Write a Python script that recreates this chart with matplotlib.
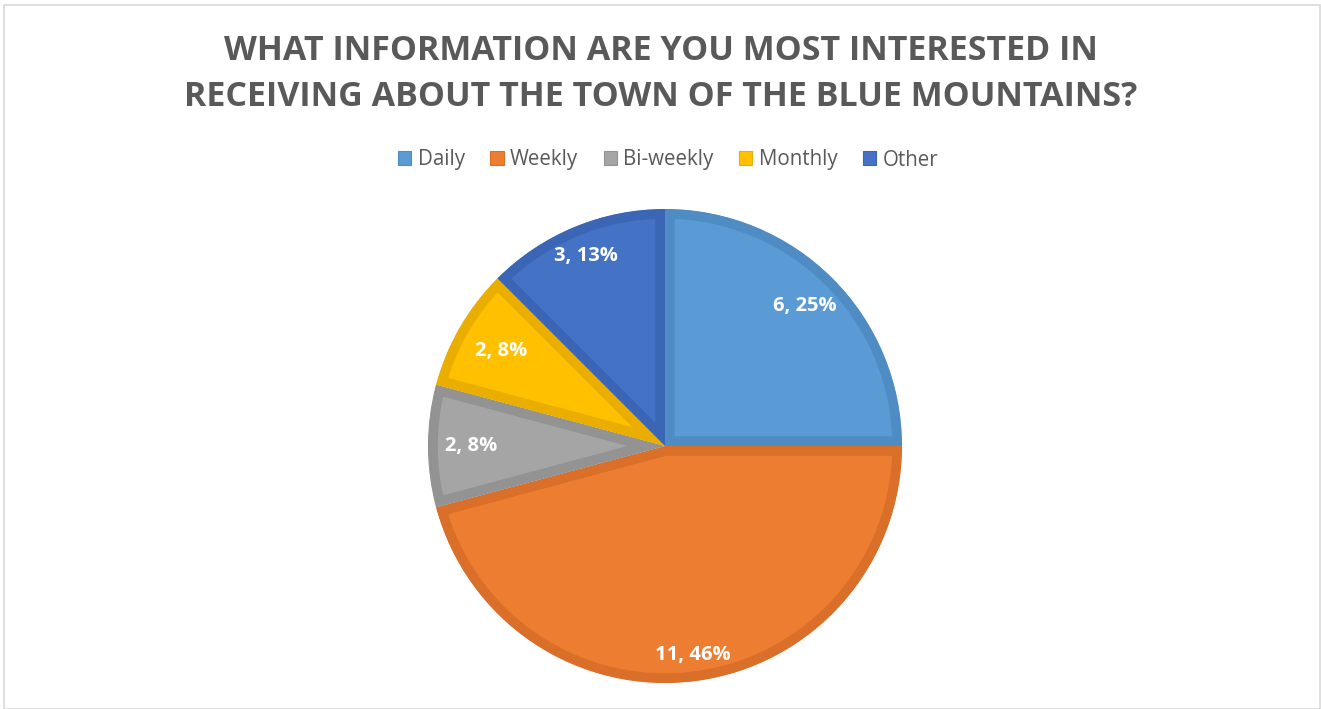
import matplotlib
matplotlib.use("Agg")
import matplotlib.pyplot as plt
from matplotlib.patches import Rectangle, Patch
import numpy as np

categories = ["Daily", "Weekly", "Bi-weekly", "Monthly", "Other"]
counts = [6, 11, 2, 2, 3]
percents = [25, 46, 8, 8, 13]
title = "WHAT INFORMATION ARE YOU MOST INTERESTED IN\nRECEIVING ABOUT THE TOWN OF THE BLUE MOUNTAINS?"

fill_colors = ["#5B9BD5", "#ED7D31", "#A5A5A5", "#FFC000", "#4472C4"]
edge_colors = ["#4F8CC4", "#DA6F2A", "#939393", "#E9AE00", "#3B66B6"]
label_dist = [0.835, 0.89, 0.82, 0.80, 0.87]

plt.rcParams['font.family'] = ['Open Sans', 'DejaVu Sans']
W, H = 1321, 709
fig = plt.figure(figsize=(W / 100, H / 100), dpi=100)
fig.patch.set_facecolor("white")

# outer frame
fig.add_artist(Rectangle((4 / W, 0), 1 - 5 / W, 1 - 5 / H, transform=fig.transFigure,
                         fill=False, edgecolor="#D9D9D9", linewidth=1.2))

cx, cy, r = 665, H - 446, 237
ax = fig.add_axes([(cx - r) / W, (cy - r) / H, 2 * r / W, 2 * r / H])

wedges, _ = ax.pie(counts, colors=fill_colors, startangle=90, counterclock=False,
                   radius=1.0, center=(0, 0), frame=False)
ax.set_xlim(-1, 1)
ax.set_ylim(-1, 1)
ax.set_aspect("equal")
ax.axis("off")
for w, ec in zip(wedges, edge_colors):
    w.set_edgecolor(ec)
    w.set_linewidth(14)
    w.set_clip_on(True)
    w.set_clip_path(w)

for w, c, p, d in zip(wedges, counts, percents, label_dist):
    ang = np.deg2rad((w.theta1 + w.theta2) / 2)
    ax.text(d * np.cos(ang), d * np.sin(ang), f"{c}, {p}%", ha="center", va="center",
            color="white", fontsize=14.5, fontweight="bold")

fig.text(0.5, 1 - 74 / H, title, ha="center", va="center", fontsize=24.5, fontweight="bold",
         color="#595959", linespacing=1.5)

handles = [Patch(facecolor=fc, edgecolor=ec, linewidth=0.8) for fc, ec in zip(fill_colors, edge_colors)]
fig.legend(handles, categories, loc="center", bbox_to_anchor=(668 / W, 1 - 160 / H), ncol=5,
           frameon=False, fontsize=14.8, labelcolor="#595959", handlelength=0.65, handleheight=0.65,
           handletextpad=0.3, columnspacing=1.25, borderpad=0)

fig.savefig("out.png", dpi=100, facecolor="white")
